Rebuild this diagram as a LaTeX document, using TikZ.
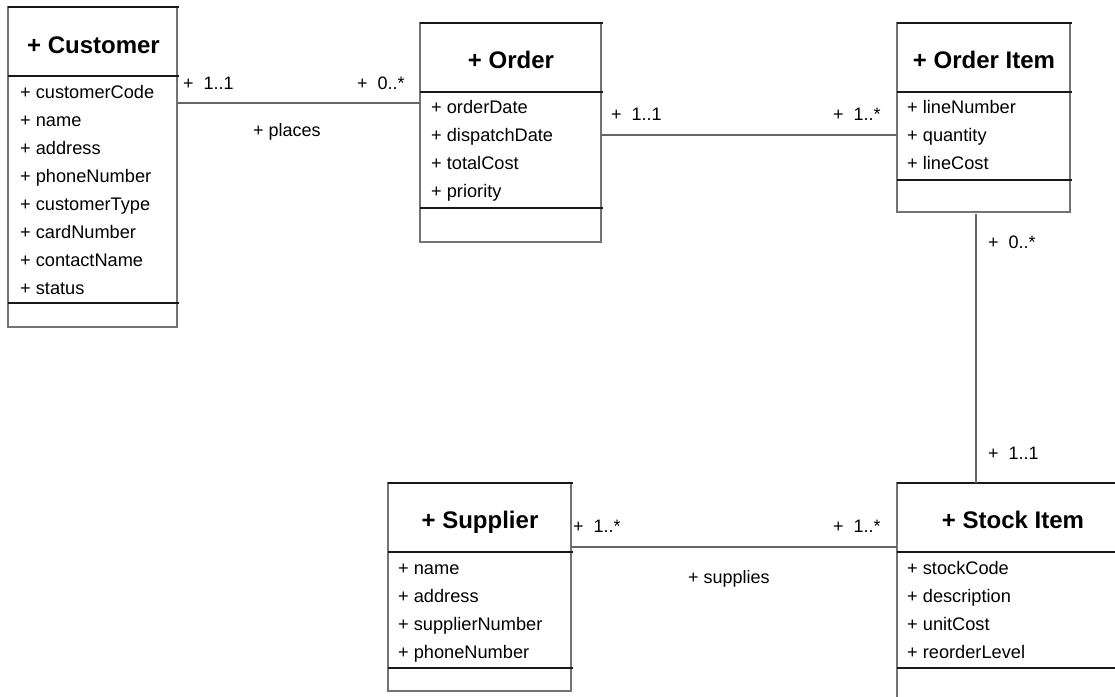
\documentclass[tikz,border=0pt]{standalone}
\usepackage{fontspec}
\setmainfont{Liberation Sans}
\begin{document}
\begin{tikzpicture}[x=1pt,y=-1pt,
  cls/.style={draw=black!55, line width=1.2pt, anchor=north west, inner sep=0pt, outer sep=0pt},
  sepline/.style={draw=black!90, line width=1.2pt},
  conn/.style={draw=black!60, line width=1.2pt},
  ttl/.style={anchor=base, inner sep=0pt, font=\fontsize{24}{24}\selectfont\bfseries},
  attr/.style={anchor=base west, inner sep=0pt, font=\fontsize{18.2}{18}\selectfont},
  lbl/.style={anchor=base west, inner sep=0pt, font=\fontsize{18}{18}\selectfont}]
\useasboundingbox (0,0) rectangle (1115,696);
\clip (0,0) rectangle (1115,696);

% ---------- Customer
\node[cls, minimum width=169pt, minimum height=320pt] (customer) at (8,7) {};
\draw[sepline] (8,7) -- (179,7);
\draw[sepline] (8,76) -- (179,76);
\draw[sepline] (8,303) -- (179,303);
\node[ttl] (customerT) at (93.5,53) {+ Customer};
\node[attr] (c1) at (20,98) {+ customerCode};
\node[attr] (c2) at (20,126) {+ name};
\node[attr] (c3) at (20,154) {+ address};
\node[attr] (c4) at (20,182) {+ phoneNumber};
\node[attr] (c5) at (20,210) {+ customerType};
\node[attr] (c6) at (20,238) {+ cardNumber};
\node[attr] (c7) at (20,266) {+ contactName};
\node[attr] (c8) at (20,294) {+ status};

% ---------- Order
\node[cls, minimum width=181pt, minimum height=219pt] (order) at (420,23) {};
\draw[sepline] (420,23) -- (603,23);
\draw[sepline] (420,92) -- (603,92);
\draw[sepline] (420,208) -- (603,208);
\node[ttl] (orderT) at (511,68) {+ Order};
\node[attr] (o1) at (431,113) {+ orderDate};
\node[attr] (o2) at (431,141) {+ dispatchDate};
\node[attr] (o3) at (431,169) {+ totalCost};
\node[attr] (o4) at (431,197) {+ priority};

% ---------- Order Item
\node[cls, minimum width=173pt, minimum height=189pt] (item) at (897,23) {};
\draw[sepline] (897,23) -- (1072,23);
\draw[sepline] (897,92) -- (1072,92);
\draw[sepline] (897,180) -- (1072,180);
\node[ttl] (itemT) at (984,68) {+ Order Item};
\node[attr] (i1) at (907,113) {+ lineNumber};
\node[attr] (i2) at (907,141) {+ quantity};
\node[attr] (i3) at (907,169) {+ lineCost};

% ---------- Supplier
\node[cls, minimum width=183pt, minimum height=208pt] (supplier) at (388,483) {};
\draw[sepline] (388,483) -- (573,483);
\draw[sepline] (388,552) -- (573,552);
\draw[sepline] (388,668) -- (573,668);
\node[ttl] (supplierT) at (480,528) {+ Supplier};
\node[attr] (s1) at (398,574) {+ name};
\node[attr] (s2) at (398,602) {+ address};
\node[attr] (s3) at (398,630) {+ supplierNumber};
\node[attr] (s4) at (398,658) {+ phoneNumber};

% ---------- Stock Item
\node[cls, minimum width=231pt, minimum height=230pt] (stock) at (897,483) {};
\draw[sepline] (897,483) -- (1128,483);
\draw[sepline] (897,552) -- (1128,552);
\draw[sepline] (897,668) -- (1128,668);
\node[ttl] (stockT) at (1013,528) {+ Stock Item};
\node[attr] (k1) at (907,574) {+ stockCode};
\node[attr] (k2) at (907,602) {+ description};
\node[attr] (k3) at (907,630) {+ unitCost};
\node[attr] (k4) at (907,658) {+ reorderLevel};

% ---------- connectors
\draw[conn] ([yshift=-96pt]customer.north east) coordinate (a1) -- (a1 -| order.west);
\draw[conn] ([yshift=-112pt]order.north east) coordinate (a2) -- (a2 -| item.west);
\draw[conn] ([xshift=79pt,yshift=-2pt]item.south west) coordinate (a3) -- (a3 |- stock.north);
\draw[conn] ([yshift=-64pt]supplier.north east) coordinate (a4) -- (a4 -| stock.west);

% ---------- labels
\node[lbl] (l1) at (183,89) {+\ \ 1..1};
\node[lbl] (l2) at (357,89) {+\ \ 0..*};
\node[lbl] (l3) at (253,136) {+ places};
\node[lbl] (l4) at (611,120) {+\ \ 1..1};
\node[lbl] (l5) at (833,120) {+\ \ 1..*};
\node[lbl] (l6) at (988,248) {+\ \ 0..*};
\node[lbl] (l7) at (988,459) {+\ \ 1..1};
\node[lbl] (l8) at (573,532) {+\ \ 1..*};
\node[lbl] (l9) at (833,532) {+\ \ 1..*};
\node[lbl] (l10) at (688,583) {+ supplies};
\end{tikzpicture}
\end{document}
